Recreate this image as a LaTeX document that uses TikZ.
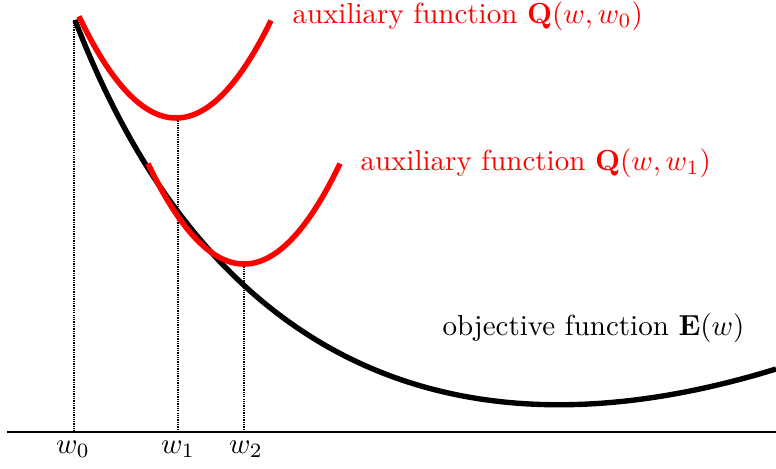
\documentclass[tikz,border=0pt]{standalone}
\usepackage{amsmath}
\begin{document}
\begin{tikzpicture}[x=0.345pt,y=-0.345pt,
  blackcurve/.style={line width=1.85pt,black},
  redcurve/.style={line width=1.9pt,red},
  dotline/.style={line width=0.8pt,dash pattern=on 0.45pt off 0.35pt},
  axisline/.style={line width=1pt,black},
  redlabel/.style={text=red,inner sep=0pt,anchor=base west},
  blacklabel/.style={inner sep=0pt,anchor=base west},
  wlabel/.style={inner sep=0pt,anchor=base}]
\useasboundingbox (0,0) rectangle (776,468);
% axis
\coordinate (axl) at (7,432);
\coordinate (axr) at (776,432);
% dotted guide lines
\coordinate (t0) at (74,20);  \coordinate (a0) at (74,432);
\coordinate (t1) at (178,118); \coordinate (a1) at (178,432);
\coordinate (t2) at (244,264); \coordinate (a2) at (244,432);
\draw[dotline] (t0) -- (a0);
\draw[dotline] (t1) -- (a1);
\draw[dotline] (t2) -- (a2);
\draw[axisline] (axl) -- (axr);
% objective function
\coordinate (es) at (75,20);
\coordinate (ee) at (776,369);
\draw[blackcurve] (es) .. controls (205,358) and (448,470) .. (ee);
% auxiliary functions
\draw[redcurve] plot[domain=79:271,samples=80] (\x,{118-0.0108*(\x-176)*(\x-176)});
\draw[redcurve] plot[domain=148:340,samples=80] (\x,{264-0.0109*(\x-244)*(\x-244)});
% labels
\node[redlabel] (q0) at (292,23) {auxiliary function $\mathbf{Q}(w,w_0)$};
\node[redlabel] (q1) at (360,170) {auxiliary function $\mathbf{Q}(w,w_1)$};
\node[blacklabel] (e) at (442,335) {objective function $\mathbf{E}(w)$};
\node[wlabel] (lw0) at (73,453) {$w_0$};
\node[wlabel] (lw1) at (178,453) {$w_1$};
\node[wlabel] (lw2) at (246,453) {$w_2$};
\end{tikzpicture}
\end{document}
